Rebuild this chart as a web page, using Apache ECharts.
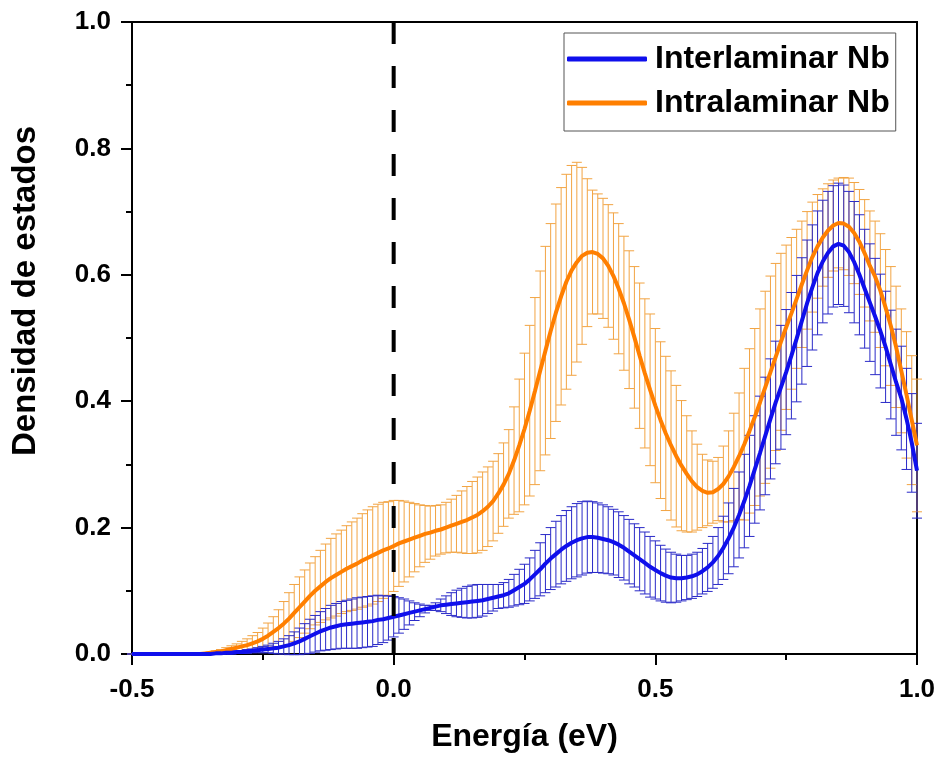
<!DOCTYPE html>
<html>
<head>
<meta charset="utf-8">
<script src="https://cdn.jsdelivr.net/npm/echarts@6/dist/echarts.min.js"></script>
<style>
html,body{margin:0;padding:0;background:#fff;}
#chart{width:940px;height:759px;}
</style>
</head>
<body>
<div id="chart"></div>
<script>
// Energy grid: -0.50 .. 1.00 eV, step 0.01 (151 points)
const energyStart = -0.5;
const energyStep = 0.01;

const xTicks = [-0.5, 0.0, 0.5, 1.0];
const yTicks = [0.0, 0.2, 0.4, 0.6, 0.8, 1.0];

// Interlaminar Nb (blue) mean
const interMean = [
0,0,0,0,0,0,0,0,0,0,0,0,0,0,0,0,
0.001,0.001,0.002,0.002,0.003,0.003,0.004,0.005,0.006,0.007,
0.008,0.009,0.010,0.012,0.014,0.017,0.020,0.024,0.028,0.032,
0.036,0.039,0.042,0.044,0.046,0.047,0.048,0.049,0.050,0.051,
0.052,0.054,0.055,0.057,0.059,0.061,0.063,0.065,0.067,0.069,
0.071,0.073,0.075,0.077,0.078,0.079,0.080,0.081,0.082,0.083,
0.084,0.085,0.087,0.089,0.091,0.093,0.096,0.101,0.106,0.111,
0.118,0.126,0.134,0.143,0.151,0.158,0.165,0.171,0.176,0.180,
0.183,0.185,0.185,0.184,0.182,0.180,0.177,0.173,0.168,0.162,
0.156,0.150,0.144,0.138,0.133,0.128,0.124,0.121,0.120,0.120,
0.121,0.123,0.126,0.131,0.137,0.145,0.155,0.168,0.183,0.200,
0.220,0.242,0.266,0.292,0.318,0.345,0.372,0.398,0.422,0.446,
0.472,0.499,0.527,0.555,0.580,0.603,0.621,0.635,0.645,0.649,
0.646,0.636,0.620,0.600,0.578,0.556,0.534,0.511,0.486,0.458,
0.430,0.405,0.372,0.334,0.290
];
// Interlaminar Nb error (half-width)
const interErr = [
0,0,0,0,0,0,0,0,0,0,0,0,0,0,0,0,
0.001,0.001,0.001,0.002,0.002,0.002,0.003,0.003,0.004,0.005,
0.006,0.008,0.010,0.012,0.015,0.018,0.021,0.024,0.027,0.029,
0.031,0.033,0.035,0.036,0.037,0.038,0.039,0.040,0.040,0.040,
0.040,0.039,0.037,0.035,0.032,0.028,0.024,0.019,0.014,0.010,
0.006,0.004,0.006,0.010,0.014,0.018,0.021,0.023,0.025,0.026,
0.026,0.025,0.023,0.021,0.019,0.020,0.022,0.025,0.028,0.031,
0.034,0.038,0.042,0.046,0.049,0.052,0.054,0.056,0.057,0.058,
0.058,0.057,0.056,0.055,0.054,0.053,0.052,0.052,0.051,0.051,
0.050,0.050,0.049,0.048,0.046,0.044,0.042,0.040,0.038,0.036,
0.035,0.035,0.035,0.036,0.038,0.041,0.045,0.050,0.056,0.062,
0.068,0.074,0.080,0.085,0.090,0.093,0.095,0.097,0.098,0.099,
0.100,0.100,0.100,0.100,0.099,0.098,0.097,0.097,0.096,0.096,
0.096,0.096,0.096,0.095,0.094,0.093,0.092,0.090,0.088,0.086,
0.084,0.082,0.080,0.078,0.075
];
// Intralaminar Nb (orange) mean
const intraMean = [
0,0,0,0,0,0,0,0,0,0,0,0,0,0,
0.001,0.002,0.003,0.004,0.006,0.008,0.010,0.012,0.014,0.017,
0.020,0.024,0.029,0.035,0.041,0.048,0.056,0.065,0.074,0.083,
0.092,0.100,0.107,0.114,0.120,0.125,0.130,0.135,0.139,0.143,
0.148,0.152,0.156,0.160,0.164,0.167,0.171,0.175,0.178,0.181,
0.184,0.187,0.190,0.192,0.195,0.197,0.200,0.203,0.206,0.209,
0.212,0.216,0.220,0.226,0.233,0.242,0.254,0.268,0.285,0.306,
0.330,0.356,0.385,0.416,0.448,0.480,0.511,0.540,0.566,0.589,
0.607,0.620,0.630,0.635,0.636,0.633,0.626,0.614,0.598,0.578,
0.555,0.529,0.501,0.472,0.444,0.418,0.393,0.370,0.349,0.330,
0.313,0.298,0.285,0.273,0.264,0.258,0.255,0.256,0.261,0.269,
0.281,0.296,0.313,0.332,0.353,0.375,0.398,0.422,0.446,0.470,
0.494,0.517,0.539,0.562,0.585,0.607,0.628,0.645,0.659,0.670,
0.678,0.682,0.681,0.676,0.666,0.652,0.634,0.614,0.597,0.575,
0.548,0.519,0.486,0.448,0.410,0.370,0.330
];
// Intralaminar Nb error (half-width)
const intraErr = [
0,0,0,0,0,0,0,0,0,0,0,0,0,0,
0.001,0.001,0.002,0.003,0.004,0.005,0.006,0.008,0.010,0.012,
0.014,0.017,0.020,0.024,0.029,0.035,0.041,0.045,0.048,0.050,
0.052,0.054,0.057,0.060,0.063,0.065,0.066,0.068,0.070,0.072,
0.074,0.076,0.077,0.077,0.076,0.074,0.072,0.068,0.064,0.059,
0.054,0.049,0.045,0.042,0.040,0.039,0.040,0.042,0.045,0.049,
0.053,0.057,0.060,0.062,0.063,0.063,0.063,0.066,0.070,0.085,
0.105,0.120,0.135,0.148,0.158,0.165,0.170,0.172,0.172,0.170,
0.166,0.158,0.140,0.117,0.098,0.095,0.095,0.097,0.100,0.103,
0.106,0.109,0.112,0.115,0.118,0.120,0.122,0.124,0.122,0.118,
0.112,0.103,0.092,0.080,0.068,0.058,0.052,0.049,0.050,0.060,
0.072,0.085,0.100,0.120,0.130,0.140,0.148,0.152,0.152,0.148,
0.140,0.130,0.120,0.110,0.100,0.093,0.087,0.082,0.077,0.074,
0.072,0.071,0.073,0.077,0.080,0.083,0.085,0.087,0.088,0.090,
0.092,0.094,0.096,0.098,0.100,0.102,0.105
];

const fermiLine = [[0, 1], [0, 0]];

function energyAt(i){ return +(energyStart + i*energyStep).toFixed(2); }
function pairs(mean){ return mean.map((v,i)=>[energyAt(i), v]); }
function bars(mean, err){ return mean.map((v,i)=>[energyAt(i), v-err[i], v+err[i]]); }

const FONT = '"Liberation Sans", Arial, sans-serif';

function errorBarRenderer(color){
  return function(params, api){
    const x = api.value(0), lo = api.value(1), hi = api.value(2);
    const pLo = api.coord([x, lo]);
    const pHi = api.coord([x, hi]);
    const hw = 5;
    const st = {stroke: color, lineWidth: 1};
    return {
      type: 'group',
      children: [
        {type:'line', shape:{x1:pLo[0], y1:pLo[1], x2:pHi[0], y2:pHi[1]}, style: st},
        {type:'line', shape:{x1:pHi[0]-hw, y1:pHi[1], x2:pHi[0]+hw, y2:pHi[1]}, style: st},
        {type:'line', shape:{x1:pLo[0]-hw, y1:pLo[1], x2:pLo[0]+hw, y2:pLo[1]}, style: st}
      ]
    };
  };
}

const BLUE = '#0f0fec';
const BLUE_BAR = '#2a2ac8';
const ORANGE = '#ff7f00';
const ORANGE_BAR = '#f2a443';

const chart = echarts.init(document.getElementById('chart'), null, {renderer:'canvas'});
chart.setOption({
  animation: false,
  backgroundColor: '#fff',
  grid: {left: 132, right: 23, top: 22, bottom: 105, show: true, borderColor: '#000', borderWidth: 2, backgroundColor: 'transparent'},
  xAxis: {
    type: 'value', min: -0.5, max: 1.0, interval: 0.5,
    name: 'Energía (eV)', nameLocation: 'middle', nameGap: 67,
    nameTextStyle: {fontFamily: FONT, fontWeight: 'bold', fontSize: 32, color: '#000'},
    axisLine: {show: true, onZero: false, lineStyle: {color: '#000', width: 2}},
    axisTick: {show: true, inside: false, length: 11, lineStyle: {color: '#000', width: 2}},
    minorTick: {show: true, splitNumber: 2, length: 6, lineStyle: {color: '#000', width: 2}},
    splitLine: {show: false},
    axisLabel: {margin: 23, fontFamily: FONT, fontWeight: 'bold', fontSize: 26, color: '#000',
      formatter: v => xTicks.includes(+v.toFixed(2)) ? v.toFixed(1) : ''}
  },
  yAxis: {
    type: 'value', min: 0, max: 1.0, interval: 0.2,
    axisLine: {show: true, onZero: false, lineStyle: {color: '#000', width: 2}},
    axisTick: {show: true, inside: false, length: 11, lineStyle: {color: '#000', width: 2}},
    minorTick: {show: true, splitNumber: 2, length: 6, lineStyle: {color: '#000', width: 2}},
    splitLine: {show: false},
    axisLabel: {margin: 21, fontFamily: FONT, fontWeight: 'bold', fontSize: 26, color: '#000',
      formatter: v => yTicks.includes(+v.toFixed(2)) ? v.toFixed(1) : ''}
  },
  legend: {
    data: ['Interlaminar Nb', 'Intralaminar Nb'],
    orient: 'vertical', left: 564, top: 33,
    padding: [10, 6, 12, 3], itemGap: 12,
    itemWidth: 80, itemHeight: 5, icon: 'roundRect',
    borderColor: '#555', borderWidth: 1, backgroundColor: '#fff',
    textStyle: {fontFamily: FONT, fontWeight: 'bold', fontSize: 32, color: '#000', lineHeight: 28, padding: [0,0,0,3]}
  },
  graphic: [{
    type: 'text', x: 26, y: 291, rotation: Math.PI/2,
    style: {text: 'Densidad de estados', font: 'bold 33px ' + FONT, fill: '#000', textAlign: 'center', textVerticalAlign: 'middle'}
  }],
  series: [
    {name: 'intraErr', type: 'custom', renderItem: errorBarRenderer(ORANGE_BAR), data: bars(intraMean, intraErr), encode:{x:0, y:[1,2]}, z: 2, silent: true},
    {name: 'interErr', type: 'custom', renderItem: errorBarRenderer(BLUE_BAR), data: bars(interMean, interErr), encode:{x:0, y:[1,2]}, z: 3, silent: true},
    {name: 'Intralaminar Nb', type: 'line', data: pairs(intraMean), showSymbol: false, symbol: 'none', color: ORANGE, lineStyle: {color: ORANGE, width: 4}, z: 4},
    {name: 'Interlaminar Nb', type: 'line', data: pairs(interMean), showSymbol: false, symbol: 'none', color: BLUE, lineStyle: {color: BLUE, width: 4}, z: 5},
    {name: 'fermi', type: 'line', data: fermiLine, showSymbol: false, symbol: 'none', lineStyle: {color: '#000', width: 4, type: [22, 22]}, z: 6, silent: true}
  ]
});
</script>
</body>
</html>
